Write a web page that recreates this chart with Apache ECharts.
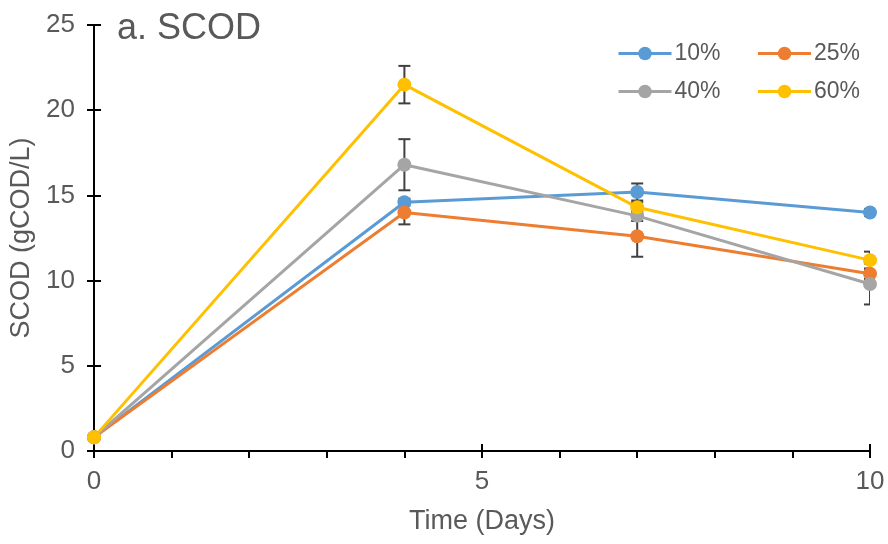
<!DOCTYPE html>
<html>
<head>
<meta charset="utf-8">
<script src="https://cdn.jsdelivr.net/npm/echarts@6/dist/echarts.min.js"></script>
<style>
  html, body { margin: 0; padding: 0; background: #fff; }
  #chart { width: 888px; height: 544px; }
</style>
</head>
<body>
<div id="chart"></div>
<script>
// Sampling days
const days = [0, 4, 7, 10];

// SCOD means (gCOD/L) per substrate share
const scod10 = [0.8, 14.6, 15.2, 14.0];
const scod25 = [0.8, 14.0, 12.6, 10.4];
const scod40 = [0.8, 16.8, 13.8, 9.8];
const scod60 = [0.8, 21.5, 14.3, 11.2];

// Standard deviations
const err10 = [0, 0.2, 0.5, 0.2];
const err25 = [0, 0.7, 1.2, 0.3];
const err40 = [0, 1.5, 0.3, 1.2];
const err60 = [0, 1.1, 0.3, 0.5];

const seriesNames = ['10%', '25%', '40%', '60%'];
const colors = ['#5B9BD5', '#ED7D31', '#A5A5A5', '#FFC000'];
const means = [scod10, scod25, scod40, scod60];
const errs = [err10, err25, err40, err60];

const textColor = '#595959';
const font = 'Liberation Sans, Arial, sans-serif';

const chart = echarts.init(document.getElementById('chart'), null, { renderer: 'canvas' });

const lineSeries = seriesNames.map((name, i) => ({
  name: name,
  type: 'line',
  xAxisIndex: 0,
  yAxisIndex: 0,
  data: days.map((d, k) => [d, means[i][k]]),
  symbol: 'circle',
  symbolSize: 14,
  clip: false,
  z: 3,
  itemStyle: { color: colors[i] },
  lineStyle: { color: colors[i], width: 3 }
}));

const errData = [];
seriesNames.forEach((name, i) => {
  days.forEach((d, k) => {
    if (errs[i][k] > 0) {
      errData.push([d, means[i][k] - errs[i][k], means[i][k] + errs[i][k]]);
    }
  });
});

const errorSeries = {
  type: 'custom',
  name: 'err',
  xAxisIndex: 0,
  yAxisIndex: 0,
  clip: true,
  z: 2,
  data: errData,
  encode: { x: 0, y: [1, 2] },
  renderItem: function (params, api) {
    const x = api.value(0);
    const lo = api.coord([x, api.value(1)]);
    const hi = api.coord([x, api.value(2)]);
    const half = 6;
    const style = { stroke: '#404040', lineWidth: 2, fill: null };
    return {
      type: 'group',
      children: [
        { type: 'line', shape: { x1: lo[0], y1: lo[1], x2: hi[0], y2: hi[1] }, style: style },
        { type: 'line', shape: { x1: lo[0] - half, y1: lo[1], x2: lo[0] + half, y2: lo[1] }, style: style },
        { type: 'line', shape: { x1: hi[0] - half, y1: hi[1], x2: hi[0] + half, y2: hi[1] }, style: style }
      ]
    };
  }
};

const legendBase = {
  orient: 'horizontal',
  itemWidth: 53,
  itemHeight: 17,
  itemGap: 36,
  lineStyle: { width: 3 },
  textStyle: { color: textColor, fontSize: 23, fontFamily: font, padding: [0, 0, 0, -2] }
};

const option = {
  backgroundColor: '#ffffff',
  animation: false,
  title: {
    text: 'a. SCOD',
    left: 112,
    top: 6,
    textStyle: { color: textColor, fontSize: 36, fontWeight: 'normal', fontFamily: font }
  },
  legend: [
    Object.assign({}, legendBase, { left: 612, top: 37, data: ['10%', '25%'] }),
    Object.assign({}, legendBase, { left: 612, top: 75, data: ['40%', '60%'] })
  ],
  grid: { left: 94, right: 18, top: 25, bottom: 93, containLabel: false },
  xAxis: [
    {
      type: 'value',
      min: 0, max: 10, interval: 5,
      name: 'Time (Days)',
      nameLocation: 'middle',
      nameGap: 57,
      nameTextStyle: { color: textColor, fontSize: 27, fontFamily: font },
      axisLine: { show: true, onZero: false, lineStyle: { color: '#000', width: 2 } },
      axisTick: { show: true, inside: false, length: 7, lineStyle: { color: '#000', width: 2 } },
      minorTick: { show: true, splitNumber: 5, length: 7, lineStyle: { color: '#000', width: 2 } },
      splitLine: { show: false },
      axisLabel: { color: textColor, fontSize: 26, fontFamily: font, margin: 18 }
    },
    {
      type: 'value',
      min: 0, max: 10, interval: 5,
      position: 'bottom',
      axisLine: { show: false },
      axisTick: { show: true, inside: true, length: 7, lineStyle: { color: '#000', width: 2 } },
      splitLine: { show: false },
      axisLabel: { show: false }
    }
  ],
  yAxis: [
    {
      type: 'value',
      min: 0, max: 25, interval: 5,
      name: 'SCOD (gCOD/L)',
      nameLocation: 'middle',
      nameGap: 51,
      nameTextStyle: { color: textColor, fontSize: 27, fontFamily: font },
      axisLine: { show: true, onZero: false, lineStyle: { color: '#000', width: 2 } },
      axisTick: { show: true, inside: false, length: 7, lineStyle: { color: '#000', width: 2 } },
      splitLine: { show: false },
      axisLabel: { color: textColor, fontSize: 26, fontFamily: font, margin: 19 }
    },
    {
      type: 'value',
      min: 0, max: 25, interval: 5,
      position: 'left',
      axisLine: { show: false },
      axisTick: { show: true, inside: true, length: 7, lineStyle: { color: '#000', width: 2 } },
      splitLine: { show: false },
      axisLabel: { show: false }
    }
  ],
  series: [errorSeries].concat(lineSeries)
};

chart.setOption(option);
</script>
</body>
</html>
